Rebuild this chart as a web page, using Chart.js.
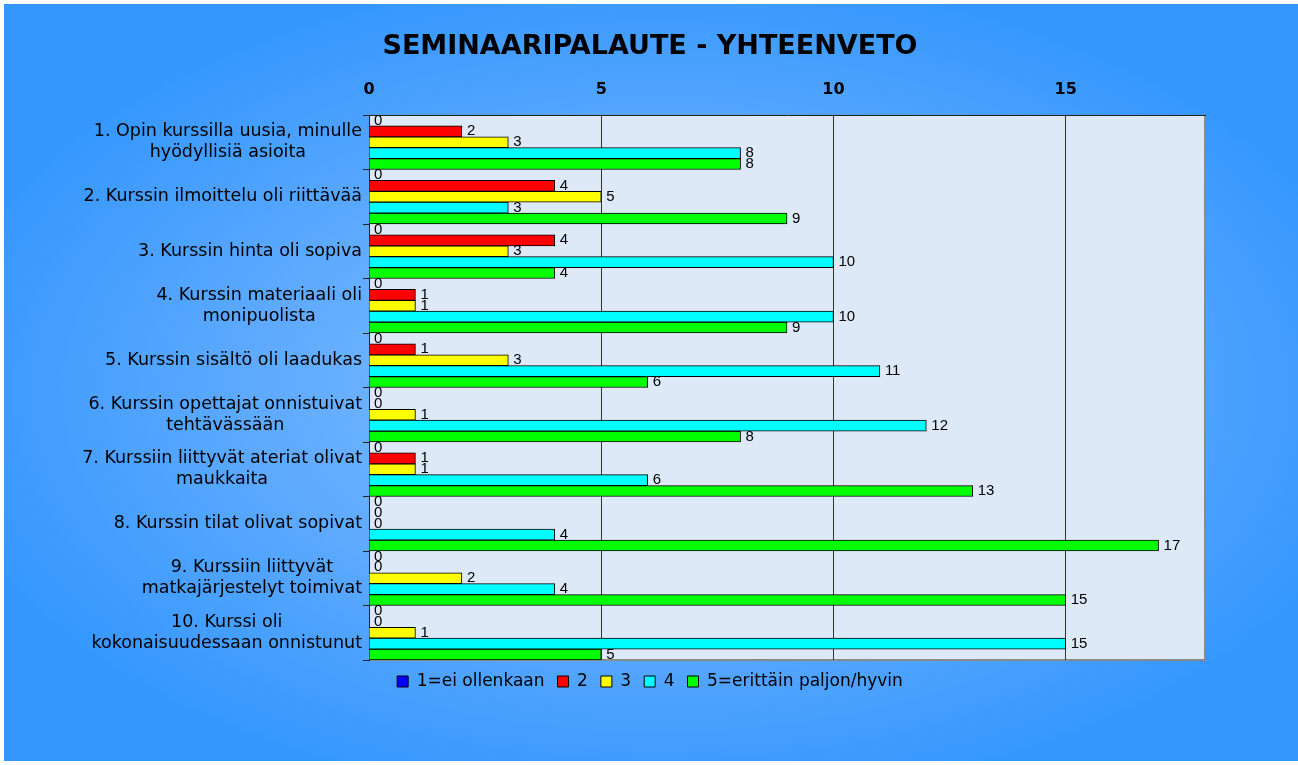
<!DOCTYPE html>
<html>
<head>
<meta charset="utf-8">
<title>Seminaaripalaute</title>
<script src="https://cdn.jsdelivr.net/npm/chart.js@4/dist/chart.umd.min.js"></script>
<style>
  body { margin: 0; background: #fff; }
  canvas { display: block; }
</style>
</head>
<body>
<canvas id="myChart" width="1298" height="765"></canvas>
<script>
'use strict';
// chart data
let categories = [
    ['1. Opin kurssilla uusia, minulle', 'hyödyllisiä asioita'],
    '2. Kurssin ilmoittelu oli riittävää',
    '3. Kurssin hinta oli sopiva',
    ['4. Kurssin materiaali oli', 'monipuolista'],
    '5. Kurssin sisältö oli laadukas',
    ['6. Kurssin opettajat onnistuivat', 'tehtävässään'],
    ['7. Kurssiin liittyvät ateriat olivat', 'maukkaita'],
    '8. Kurssin tilat olivat sopivat',
    ['9. Kurssiin liittyvät', 'matkajärjestelyt toimivat'],
    ['10. Kurssi oli', 'kokonaisuudessaan onnistunut']
];
let seriesNames = ['1=ei ollenkaan', '2', '3', '4', '5=erittäin paljon/hyvin'];
let answers1 = [0, 0, 0, 0, 0, 0, 0, 0, 0, 0];
let answers2 = [2, 4, 4, 1, 1, 0, 1, 0, 0, 0];
let answers3 = [3, 5, 3, 1, 3, 1, 1, 0, 2, 1];
let answers4 = [8, 3, 10, 10, 11, 12, 6, 4, 4, 15];
let answers5 = [8, 9, 4, 9, 6, 8, 13, 17, 15, 5];
let xTicks = [0, 5, 10, 15];
let xMax = 18;

let barColors = ['#0000ff', '#ff0000', '#ffff00', '#00ffff', '#00ff00'];
let fontName = "'DejaVu Sans', sans-serif";

let allAnswers = [answers1, answers2, answers3, answers4, answers5];
let datasets = [];
for (let i = 0; i < allAnswers.length; i++) {
    datasets.push({
        label: seriesNames[i],
        data: allAnswers[i],
        backgroundColor: barColors[i],
        borderColor: '#000',
        borderWidth: 1,
        categoryPercentage: 1,
        barPercentage: 1
    });
}

// blue background, plot area fill and border
let backgroundPlugin = {
    id: 'background',
    beforeDraw(chart) {
        let ctx = chart.ctx;
        let area = chart.chartArea;
        ctx.save();
        ctx.fillStyle = '#fff';
        ctx.fillRect(0, 0, chart.width, chart.height);

        ctx.save();
        ctx.beginPath();
        ctx.rect(4, 4, chart.width - 4, chart.height - 8);
        ctx.clip();
        ctx.translate(660, 390);
        ctx.scale(1.75, 1);
        let grad = ctx.createRadialGradient(0, 0, 0, 0, 0, 420);
        grad.addColorStop(0, '#86c0ff');
        grad.addColorStop(0.55, '#5eaaff');
        grad.addColorStop(1, '#3597fd');
        ctx.fillStyle = grad;
        ctx.fillRect(-400, -400, 800, 800);
        ctx.restore();

        ctx.fillStyle = '#dde9f6';
        ctx.fillRect(area.left, area.top, area.right - area.left, area.bottom - area.top);
        ctx.strokeStyle = '#8a8a8a';
        ctx.lineWidth = 2;
        ctx.beginPath();
        ctx.moveTo(area.right, area.top);
        ctx.lineTo(area.right, area.bottom);
        ctx.lineTo(area.left, area.bottom);
        ctx.stroke();
        ctx.restore();
    }
};

// category labels, each block centred on its widest line
let yLabelPlugin = {
    id: 'yLabels',
    afterDraw(chart) {
        let ctx = chart.ctx;
        let yScale = chart.scales.y;
        ctx.save();
        ctx.font = '17.5px ' + fontName;
        ctx.fillStyle = '#000';
        ctx.textAlign = 'center';
        ctx.textBaseline = 'middle';
        let lineH = 21;
        for (let i = 0; i < categories.length; i++) {
            let lines = Array.isArray(categories[i]) ? categories[i] : [categories[i]];
            let widest = 0;
            lines.forEach(l => { widest = Math.max(widest, ctx.measureText(l).width); });
            let cx = yScale.right - 7 - widest / 2;
            let cy = yScale.getPixelForTick(i);
            let y0 = cy - (lines.length - 1) * lineH / 2;
            for (let j = 0; j < lines.length; j++) {
                ctx.fillText(lines[j], cx, y0 + j * lineH);
            }
        }
        ctx.restore();
    }
};

// value labels at the end of each bar
let valuePlugin = {
    id: 'values',
    afterDatasetsDraw(chart) {
        let ctx = chart.ctx;
        ctx.save();
        ctx.font = "15px 'Liberation Sans', Arial, sans-serif";
        ctx.fillStyle = '#000';
        ctx.textAlign = 'left';
        ctx.textBaseline = 'middle';
        chart.data.datasets.forEach((ds, d) => {
            let meta = chart.getDatasetMeta(d);
            meta.data.forEach((bar, i) => {
                ctx.fillText(String(ds.data[i]), bar.x + 5, bar.y);
            });
        });
        ctx.restore();
    }
};

function chartRender() {
    let ctx = document.getElementById('myChart').getContext('2d');
    let myChart = new Chart(ctx, {
        type: 'bar',
        data: {
            labels: categories,
            datasets: datasets
        },
        plugins: [backgroundPlugin, yLabelPlugin, valuePlugin],
        options: {
            responsive: false,
            animation: false,
            indexAxis: 'y',
            layout: {
                padding: { left: 95, right: 93, top: 20, bottom: 65 }
            },
            scales: {
                x: {
                    position: 'top',
                    min: 0,
                    max: xMax,
                    afterBuildTicks: (scale) => {
                        scale.ticks = xTicks.map(v => ({ value: v }));
                    },
                    afterFit: (scale) => {
                        scale.height = 51.6;
                    },
                    grid: { color: '#333', lineWidth: 1, drawTicks: false },
                    border: { color: '#222', width: 1 },
                    ticks: {
                        color: '#000',
                        padding: 16,
                        font: { family: fontName, size: 16, weight: 'bold' }
                    }
                },
                y: {
                    afterFit: (scale) => {
                        scale.width = 274;
                    },
                    grid: {
                        drawOnChartArea: false,
                        drawTicks: true,
                        tickLength: 6,
                        color: '#222'
                    },
                    border: { color: '#222', width: 1 },
                    ticks: { display: false }
                }
            },
            plugins: {
                title: {
                    display: true,
                    text: 'SEMINAARIPALAUTE - YHTEENVETO',
                    color: '#000',
                    padding: { top: 11, bottom: 0 },
                    font: { family: fontName, size: 27, weight: 'bold' }
                },
                legend: {
                    position: 'bottom',
                    labels: {
                        color: '#000',
                        boxWidth: 11,
                        boxHeight: 11,
                        padding: 13,
                        font: { family: fontName, size: 17 }
                    }
                },
                tooltip: { enabled: false }
            }
        }
    });
}

chartRender();
</script>
</body>
</html>
